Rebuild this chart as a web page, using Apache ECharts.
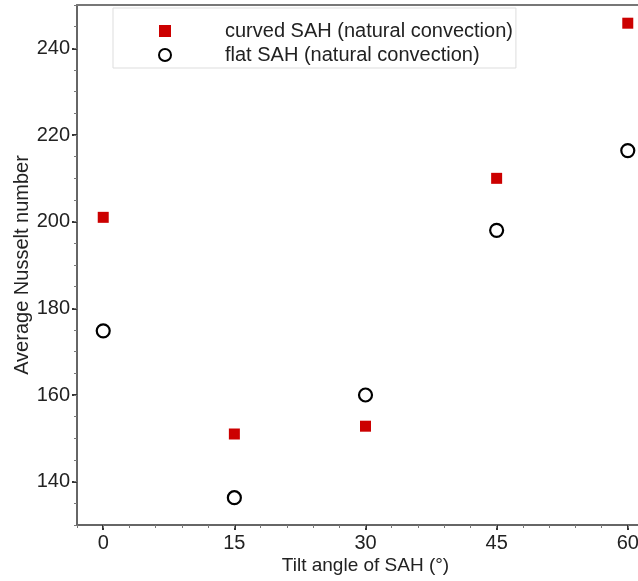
<!DOCTYPE html>
<html>
<head>
<meta charset="utf-8">
<script src="https://cdn.jsdelivr.net/npm/echarts@6/dist/echarts.min.js"></script>
<style>
html,body{margin:0;padding:0;background:#fff;}
#chart{width:638px;height:581px;}
</style>
</head>
<body>
<div id="chart"></div>
<script>
// Data
const tiltAngles = [0, 15, 30, 45, 60];
const curvedNu = [201.0, 151.0, 152.8, 210.0, 245.8];
const flatNu = [174.8, 136.3, 160.0, 198.0, 216.4];
const xTickLabels = [0, 15, 30, 45, 60];
const yTickLabels = [140, 160, 180, 200, 220, 240];
const seriesNames = ['curved SAH (natural convection)', 'flat SAH (natural convection)'];

const font = 'Liberation Sans, Arial, sans-serif';
const axisColor = '#666';
const textColor = '#222';

const chart = echarts.init(document.getElementById('chart'), null, {renderer: 'canvas'});
chart.setOption({
  animation: false,
  backgroundColor: '#fff',
  grid: {
    left: 77, top: 5, right: -16, bottom: 56,
    show: false,
    containLabel: false, outerBoundsMode: 'none'
  },
  legend: {
    orient: 'vertical',
    left: 113, top: 8,
    padding: [13, 3, 3, 45],
    itemGap: 4,
    itemWidth: 12, itemHeight: 12,
    borderColor: '#ddd', borderWidth: 1,
    backgroundColor: '#fff',
    textStyle: {fontFamily: font, fontSize: 20, color: textColor, lineHeight: 20, padding: [0, 0, 0, 49]},
    data: seriesNames
  },
  xAxis: [{
    type: 'value', position: 'bottom', min: -3, max: 63,
    name: 'Tilt angle of SAH (°)', nameLocation: 'middle', nameGap: 31, nameMoveOverlap: false,
    nameTextStyle: {fontFamily: font, fontSize: 19, color: textColor},
    axisLine: {show: true, onZero: false, lineStyle: {color: axisColor, width: 2}},
    axisTick: {show: true, inside: false, length: 5, customValues: xTickLabels, lineStyle: {color: '#333', width: 2}},
    axisLabel: {show: true, customValues: xTickLabels, margin: 8, fontFamily: font, fontSize: 20, color: textColor},
    splitLine: {show: false}
  }, {
    type: 'value', position: 'bottom', min: -3, max: 63, interval: 3,
    axisLine: {show: false, onZero: false},
    axisTick: {show: true, inside: false, length: 3, lineStyle: {color: '#777', width: 1}},
    axisLabel: {show: false},
    splitLine: {show: false}
  }, {
    type: 'value', position: 'top', min: -3, max: 63,
    axisLine: {show: true, onZero: false, lineStyle: {color: '#777', width: 2}},
    axisTick: {show: false},
    axisLabel: {show: false},
    splitLine: {show: false}
  }],
  yAxis: [{
    type: 'value', position: 'left', min: 130, max: 250,
    name: 'Average Nusselt number', nameLocation: 'middle', nameGap: 45, nameRotate: 90, nameMoveOverlap: false,
    nameTextStyle: {fontFamily: font, fontSize: 20, color: textColor},
    axisLine: {show: true, onZero: false, lineStyle: {color: axisColor, width: 2}},
    axisTick: {show: true, inside: false, length: 5, customValues: yTickLabels, lineStyle: {color: '#333', width: 2}},
    axisLabel: {show: true, customValues: yTickLabels, margin: 7, fontFamily: font, fontSize: 20, color: textColor},
    splitLine: {show: false}
  }, {
    type: 'value', position: 'left', min: 130, max: 250, interval: 5,
    axisLine: {show: false, onZero: false},
    axisTick: {show: true, inside: false, length: 3, lineStyle: {color: '#777', width: 1}},
    axisLabel: {show: false},
    splitLine: {show: false}
  }],
  series: [{
    name: seriesNames[0], type: 'scatter', xAxisIndex: 0, yAxisIndex: 0,
    symbol: 'rect', symbolSize: 11,
    itemStyle: {color: '#cc0000', opacity: 1},
    data: tiltAngles.map((x, i) => [x, curvedNu[i]])
  }, {
    name: seriesNames[1], type: 'scatter', xAxisIndex: 0, yAxisIndex: 0,
    symbol: 'circle', symbolSize: 13,
    itemStyle: {color: '#fff', borderColor: '#000', borderWidth: 2.2, opacity: 1},
    data: tiltAngles.map((x, i) => [x, flatNu[i]])
  }]
});
</script>
</body>
</html>
